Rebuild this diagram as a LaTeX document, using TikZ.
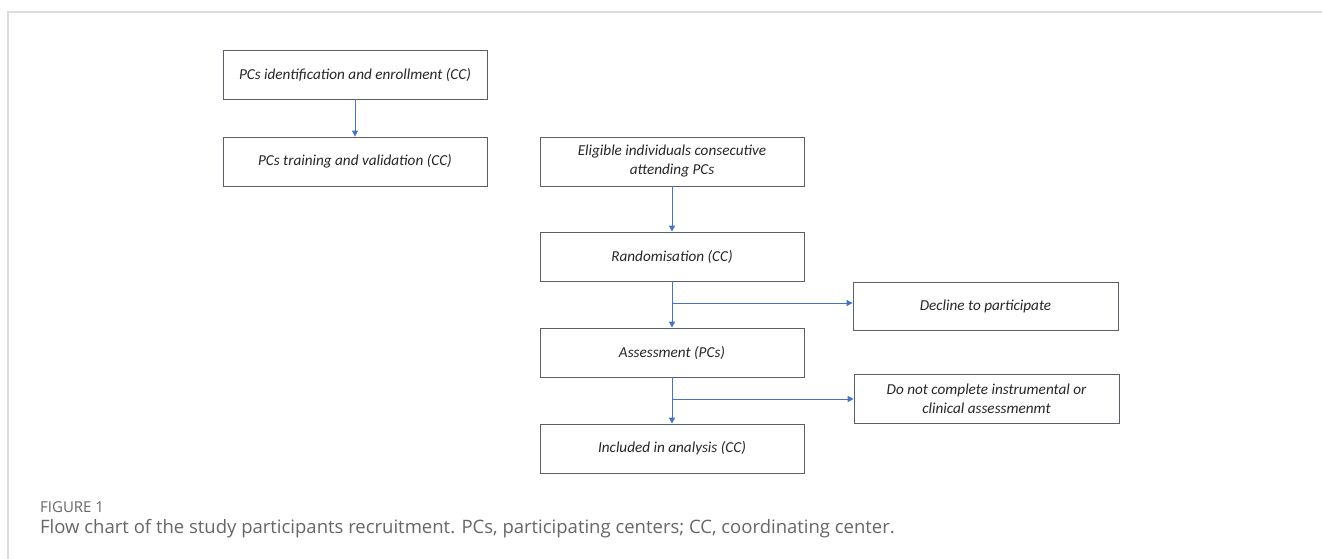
\documentclass[tikz,border=0pt]{standalone}
\usepackage{fontspec}
\setmainfont{Carlito}
\newfontfamily\capfont{Open Sans}
\usetikzlibrary{arrows.meta}
\definecolor{boxgray}{HTML}{5A6068}
\definecolor{arrowblue}{HTML}{4472C4}
\definecolor{framegray}{HTML}{DCDCDC}
\definecolor{capgray}{HTML}{666666}
\begin{document}
\begin{tikzpicture}[x=1pt,y=-1pt,
  box/.style={draw=boxgray, line width=0.9pt, minimum width=264pt, minimum height=49pt,
    inner sep=0pt, align=center, font=\fontsize{15.2}{19}\selectfont\itshape, text=black!85},
  flow/.style={draw=arrowblue, line width=1pt, -{Triangle[length=6pt,width=6pt]}},
  captxt/.style={anchor=base west, inner sep=0pt, text=capgray}
  ]
\path[use as bounding box] (0,0) rectangle (1322,559);
\draw[framegray, line width=1.5pt] (8,559) -- (8,12) -- (1322,12);

\node[box] (A) at (355,74.5) {PCs identification and enrollment (CC)};
\node[box] (B) at (355,161.5) {PCs training and validation (CC)};
\node[box] (C) at (672,161.5) {Eligible individuals consecutive\\attending PCs};
\node[box] (R) at (672,256.5) {Randomisation (CC)};
\node[box] (S) at (672,352.5) {Assessment (PCs)};
\node[box] (I) at (672,448.5) {Included in analysis (CC)};
\node[box, minimum width=265pt, minimum height=48pt] (D) at (985.5,306) {Decline to participate};
\node[box, minimum width=265pt] (N) at (986.5,398.5) {Do not complete instrumental or\\clinical assessmenmt};

\draw[flow] (A) -- (B);
\draw[flow] (C) -- (R);
\draw[flow] (R) -- (S);
\draw[flow] (S) -- (I);
\coordinate (r1) at (672,303);
\coordinate (r2) at (672,399);
\draw[flow] (r1) -- (D.west |- r1);
\draw[flow] (r2) -- (N.west |- r2);

\node[captxt, font=\capfont\fontsize{15}{18}\selectfont] (fig) at (40,512) {FIGURE 1};
\node[captxt, font=\capfont\fontsize{18.5}{22}\selectfont] (cap) at (40,533) {Flow chart of the study participants recruitment. PCs, participating centers; CC, coordinating center.};
\end{tikzpicture}
\end{document}
